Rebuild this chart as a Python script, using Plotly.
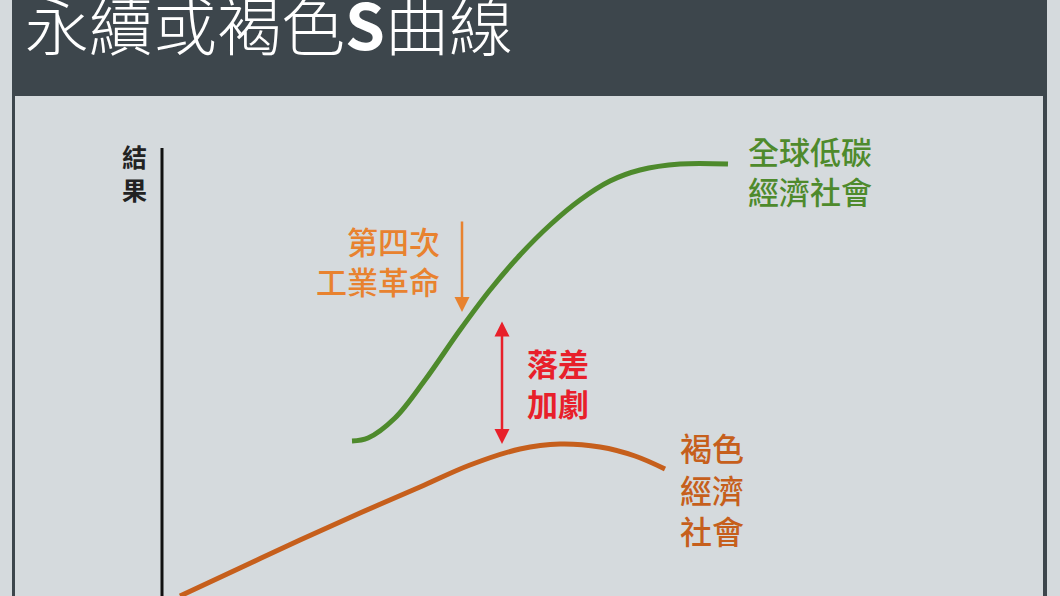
import plotly.graph_objects as go

# curve points (pixel coordinates, y downwards)
green_x = [352, 368, 395, 425, 460, 490, 520, 550, 580, 610, 640, 680, 728]
green_y = [441, 438, 418, 380, 330, 290, 255, 225, 200, 181, 170, 164, 164]
brown_x = [180, 240, 300, 360, 420, 470, 520, 560, 600, 635, 665]
brown_y = [596, 568, 540, 513, 487, 465, 449, 444, 447, 456, 469]

title_text = "永續或褐色<b>S</b>曲線"
axis_label = "結<br>果"
green_label = "全球低碳<br>經濟社會"
brown_label = "褐色<br>經濟<br>社會"
driver_label = "第四次<br>工業革命"
gap_label = "落差<br>加劇"

dark = "#3d464c"
panel = "#d5dadd"
green = "#4e8a2c"
brown = "#c65f1c"
orange = "#e8822f"
red = "#e8202a"
font = "Noto Sans CJK TC"

fig = go.Figure()
fig.add_trace(go.Scatter(x=green_x, y=green_y, mode="lines",
                         line=dict(color=green, width=5, shape="spline", smoothing=1.0),
                         hoverinfo="skip"))
fig.add_trace(go.Scatter(x=brown_x, y=brown_y, mode="lines",
                         line=dict(color=brown, width=5, shape="spline", smoothing=1.0),
                         hoverinfo="skip"))

# frame: dark header + light panel
fig.add_shape(type="rect", x0=12, x1=1047, y0=-5, y1=600,
              fillcolor=dark, line_width=0, layer="below")
fig.add_shape(type="rect", x0=15, x1=1043, y0=96, y1=600,
              fillcolor=panel, line_width=0, layer="below")
# vertical axis
fig.add_shape(type="line", x0=162, x1=162, y0=148, y1=596,
              line=dict(color="#111111", width=3))

fig.add_annotation(x=23, y=22, text=title_text, showarrow=False,
                   xanchor="left", yanchor="middle",
                   font=dict(family=font, size=64, color="white", weight=300))
fig.add_annotation(x=134, y=172, text=axis_label, showarrow=False,
                   font=dict(family=font, size=25, color="#222222", weight=700))
fig.add_annotation(x=746, y=170, text=green_label, showarrow=False,
                   xanchor="left", align="left",
                   font=dict(family=font, size=31, color=green, weight=500))
fig.add_annotation(x=678, y=488, text=brown_label, showarrow=False,
                   xanchor="left", align="left",
                   font=dict(family=font, size=32, color=brown, weight=500))
fig.add_annotation(x=442, y=260, text=driver_label, showarrow=False,
                   xanchor="right", align="right",
                   font=dict(family=font, size=31, color=orange, weight=500))
fig.add_annotation(x=525, y=382, text=gap_label, showarrow=False,
                   xanchor="left", align="left",
                   font=dict(family=font, size=31, color=red, weight=700))

# arrows
fig.add_annotation(x=462, y=312, ax=462, ay=220, xref="x", yref="y",
                   axref="x", ayref="y", text="", showarrow=True,
                   arrowhead=2, arrowsize=1.2, arrowwidth=2.5, arrowcolor=orange)
fig.add_annotation(x=502, y=444, ax=502, ay=320, xref="x", yref="y",
                   axref="x", ayref="y", text="", showarrow=True,
                   arrowhead=2, startarrowhead=2, arrowside="end+start",
                   arrowsize=1.2, arrowwidth=2.5, arrowcolor=red)

fig.update_layout(width=1060, height=596, margin=dict(l=0, r=0, t=0, b=0),
                  paper_bgcolor=panel, plot_bgcolor=panel, showlegend=False,
                  xaxis=dict(range=[0, 1060], visible=False, fixedrange=True),
                  yaxis=dict(range=[596, 0], visible=False, fixedrange=True))
fig.write_html("out.html", config={"displayModeBar": False},
               post_script="document.body.style.margin='0';")
